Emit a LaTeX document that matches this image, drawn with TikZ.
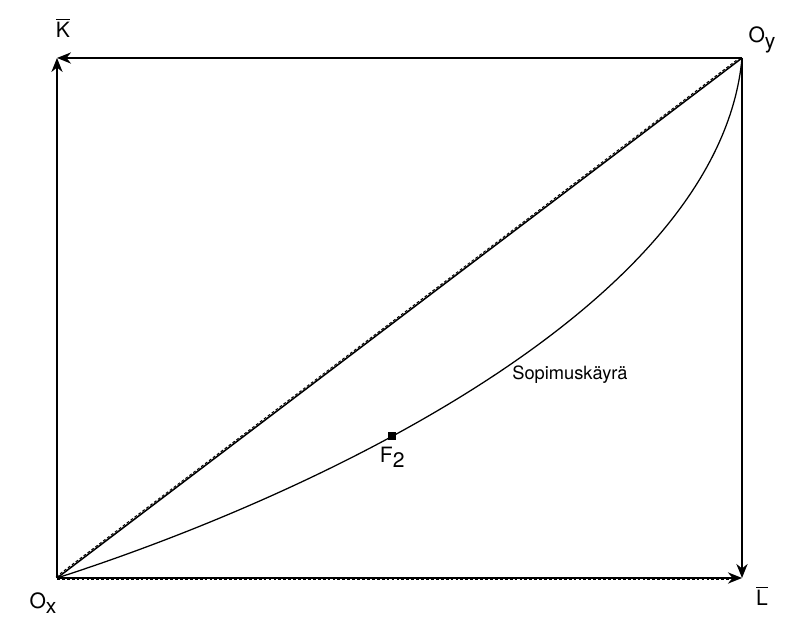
\documentclass[tikz,border=0pt]{standalone}
\usepackage{fontspec}
\setmainfont{TeX Gyre Heros}
\usetikzlibrary{arrows.meta, positioning}
\newcommand{\alaind}[1]{\raisebox{-0.5ex}{#1}}
\newcommand{\viiva}[1]{$\overline{\mbox{#1}}$}
\begin{document}
\begin{tikzpicture}[
  ax/.style={black, line width=0.9pt, -{Stealth[length=10pt, width=8pt]}},
  lbl/.style={font=\fontsize{15}{17}\selectfont, inner sep=1pt},
  pt/.style={rectangle, fill=black, minimum size=5.5pt, inner sep=0pt},
  dsh/.style={black, line width=0.7pt, dash pattern=on 2pt off 1.5pt}]
\useasboundingbox (0,0) rectangle (19.7,15.45);
\coordinate (ox) at (1.425,1.0);
\coordinate (oy) at (18.55,14.0);
\coordinate (tl) at (1.425,14.0);
\coordinate (br) at (18.55,1.0);
% box edges
\draw[ax] (ox) -- (tl);
\draw[ax] (oy) -- (tl);
\draw[ax] (oy) -- (br);
\draw[ax, line width=1.4pt] (ox) -- (br);
\draw[dsh] ([yshift=-0.8pt]ox) -- ([xshift=-8pt, yshift=-0.8pt]br);
% diagonal
\draw[line width=1.1pt] (ox) -- (oy);
\draw[dsh] ([xshift=-0.6pt, yshift=0.9pt]ox) -- ([xshift=-0.6pt, yshift=0.9pt]oy);
% contract curve
\draw[line width=0.9pt] (ox) .. controls (8.25,3.2) and (18.0,7.95) .. (oy)
  node[pos=0.38, pt] (f2) {};
\node[lbl, below=3pt of f2] (f2lbl) {F\alaind{2}};
\node[lbl, font=\fontsize{13}{15}\selectfont] (sop) at (14.25,6.075) {Sopimuskäyrä};
% corner labels
\node[lbl] (kbar) at (1.575,14.75) {\viiva{K}};
\node[lbl] (oylbl) at (19.05,14.45) {O\alaind{y}};
\node[lbl] (lbar) at (19.05,0.55) {\viiva{L}};
\node[lbl] (oxlbl) at (1.075,0.375) {O\alaind{x}};
\end{tikzpicture}
\end{document}
